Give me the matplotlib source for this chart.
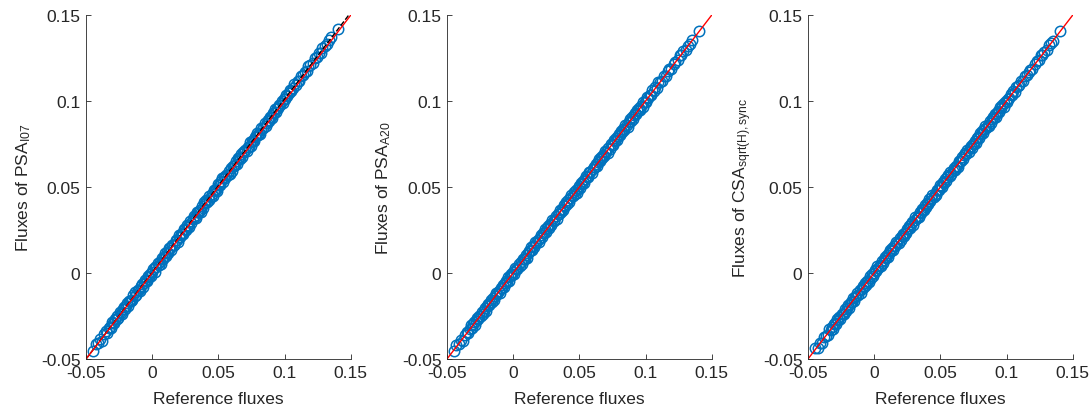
import numpy as np
import matplotlib
matplotlib.use('Agg')
from matplotlib import pyplot as plt

plt.rcParams['font.family'] = ['Liberation Sans', 'DejaVu Sans']
plt.rcParams['mathtext.fontset'] = 'custom'
plt.rcParams['mathtext.rm'] = 'Liberation Sans'
plt.rcParams['mathtext.it'] = 'Liberation Sans:italic'

# reference fluxes (shared x values of all three panels)
ref_flux = [
    -0.0445, -0.0428, -0.0412, -0.0396, -0.0381, -0.0366, -0.0352, -0.0340, -0.0329, -0.0318,
    -0.0311, -0.0302, -0.0295, -0.0287, -0.0279, -0.0270, -0.0263, -0.0255, -0.0246, -0.0238,
    -0.0231, -0.0222, -0.0215, -0.0206, -0.0199, -0.0191, -0.0183, -0.0175, -0.0166, -0.0158,
    -0.0151, -0.0143, -0.0134, -0.0127, -0.0119, -0.0110, -0.0103, -0.0095, -0.0086, -0.0079,
    -0.0071, -0.0062, -0.0055, -0.0047, -0.0039, -0.0031, -0.0022, -0.0015, -0.0007, 0.0000,
    0.0008, 0.0017, 0.0024, 0.0032, 0.0041, 0.0048, 0.0056, 0.0065, 0.0072, 0.0080,
    0.0089, 0.0096, 0.0104, 0.0113, 0.0120, 0.0128, 0.0137, 0.0144, 0.0152, 0.0161,
    0.0168, 0.0176, 0.0185, 0.0192, 0.0200, 0.0209, 0.0216, 0.0224, 0.0233, 0.0240,
    0.0248, 0.0257, 0.0264, 0.0272, 0.0281, 0.0288, 0.0296, 0.0305, 0.0312, 0.0320,
    0.0329, 0.0336, 0.0344, 0.0353, 0.0360, 0.0368, 0.0377, 0.0384, 0.0392, 0.0401,
    0.0408, 0.0416, 0.0425, 0.0432, 0.0440, 0.0449, 0.0456, 0.0464, 0.0473, 0.0480,
    0.0488, 0.0497, 0.0504, 0.0512, 0.0521, 0.0528, 0.0536, 0.0545, 0.0552, 0.0560,
    0.0569, 0.0576, 0.0584, 0.0593, 0.0600, 0.0608, 0.0617, 0.0624, 0.0632, 0.0641,
    0.0648, 0.0656, 0.0665, 0.0672, 0.0680, 0.0689, 0.0696, 0.0704, 0.0713, 0.0720,
    0.0728, 0.0737, 0.0744, 0.0752, 0.0761, 0.0768, 0.0776, 0.0785, 0.0792, 0.0800,
    0.0809, 0.0816, 0.0824, 0.0833, 0.0840, 0.0848, 0.0857, 0.0864, 0.0872, 0.0881,
    0.0888, 0.0896, 0.0905, 0.0912, 0.0920, 0.0929, 0.0936, 0.0944, 0.0953, 0.0960,
    0.0968, 0.0977, 0.0984, 0.0992, 0.1001, 0.1010, 0.1021, 0.1030, 0.1042, 0.1051,
    0.1063, 0.1074, 0.1086, 0.1097, 0.1109, 0.1122, 0.1138, 0.1151, 0.1166, 0.1180,
    0.1194, 0.1211, 0.1226, 0.1243, 0.1258, 0.1271, 0.1285, 0.1302, 0.1318, 0.1333,
    0.1352, 0.1405,
]

# method fluxes minus reference, in units of 1e-4
dev_i07 = [
    -8, 14, 3, 12, -12, 9, 16, -6, 11, 2,
    -10, 15, 7, -4, 13, 0, 12, -9, 17, 5,
    -7, 13, 18, -3, 8, 16, -11, 10, 4, -2,
    -5, 14, 1, 19, -8, 11, 6, -12, 9, 15,
    -10, 6, 17, 3, -6, 13, -1, 10, -13, 7,
    16, -9, 12, 4, 18, -4, 8, -11, 14, 0,
    2, 19, -7, 11, -3, 15, 6, -10, 13, 1,
    -6, 15, 9, -12, 20, -2, 12, 4, -8, 16,
    7, -4, 18, 1, -11, 14, -7, 10, 17, 3,
    -9, 19, 11, -1, 5, -13, 13, -5, 21, 8,
    15, -3, 20, -10, 2, 12, -6, 16, 9, 4,
    -12, 18, 7, -2, 14, 22, -4, 11, 0, 9,
    1, 20, -8, 15, -5, 13, 6, 3, 17, -9,
    19, 10, -1, 21, -6, 16, 8, 12, -3, 14,
    4, 22, -7, 18, 9, -2, 15, 11, 20, 0,
    7, -5, 17, 13, 2, 23, -4, 10, 19, 5,
    21, 12, -3, 16, 8, 24, 1, 18, 6, 14,
    9, 22, 3, 17, 11, 25, 6, 15, 20, 10,
    13, 24, 8, 18, 5, 26, 12, 19, 9, 21,
    16, 11, 27, 14, 20, 10, 23, 17, 12, 19,
    22, 15,
]

dev_a20 = [
    -9, 12, -3, 7, -14, 5, 10, -6, 2, 13,
    -11, 4, 8, -13, 1, 11, -7, 6, -2, 14,
    -10, 3, 9, -12, 5, 12, -5, 0, 10, -8,
    7, -14, 2, 13, -4, 8, -11, 6, -1, 12,
    -9, 4, 11, -6, 14, -13, 3, 9, -3, 7,
    -12, 10, 1, -8, 13, -5, 6, -10, 12, 2,
    -7, 11, -14, 5, 8, -2, 13, -9, 4, -11,
    10, -4, 7, -13, 1, 12, -6, 9, -1, 14,
    -12, 3, 11, -8, 6, -10, 13, 0, -5, 9,
    -14, 8, 2, 12, -7, 5, -11, 10, -3, 13,
    -9, 6, -12, 4, 11, -2, 14, -6, 8, -13,
    1, 10, -8, 13, -4, 7, -10, 3, 12, -1,
    -11, 9, 5, -14, 6, 11, -3, 8, -12, 2,
    13, -7, 10, -5, 4, -9, 12, 0, -13, 7,
    -6, 11, 3, -10, 14, -2, 8, -12, 5, 9,
    -8, 12, -4, 6, -11, 10, 1, -13, 7, 13,
    -3, 9, -9, 4, 12, -6, 11, -1, 8, -10,
    5, -12, 10, 2, -7, 13, -4, 6, -9, 11,
    -5, 8, -10, 12, 3, -7, 9, -3, 6, 4,
    -6, 7, 2, -4, 8, -2, 5, -5, 3, -3,
    4, 2,
]

dev_sync = [
    11, -7, 4, -12, 9, 1, -10, 13, -5, 6,
    -13, 8, 2, -9, 12, -3, 7, -11, 10, 0,
    -6, 14, -8, 5, 11, -12, 3, 9, -4, 12,
    -10, 6, -1, 13, -7, 10, -14, 4, 8, -2,
    12, -9, 7, 1, -11, 13, -5, 9, -13, 3,
    10, -6, 14, -3, 5, -10, 11, -8, 2, 13,
    -4, 8, -12, 6, 12, -1, 9, -13, 7, -5,
    14, 0, -9, 11, -6, 4, 13, -11, 2, -7,
    10, -3, 12, -10, 5, 8, -14, 6, 11, -2,
    3, -12, 9, -5, 13, 1, -8, 10, -11, 7,
    -4, 12, -9, 2, 14, -6, 6, -13, 11, 0,
    -7, 13, 4, -10, 9, -2, 12, -12, 5, 8,
    -5, 11, -11, 3, 13, -8, 7, 1, -14, 10,
    2, -6, 12, -9, 6, 11, -4, 9, -12, 4,
    13, -10, 8, -1, 5, -13, 10, 3, -7, 12,
    -3, 9, -11, 6, 14, -5, 1, -9, 11, -8,
    7, 12, -4, 10, -12, 2, 8, -6, 13, -2,
    9, -10, 5, 11, -7, 4, -3, 12, -9, 6,
    -8, 10, 3, -6, 9, -4, 7, -2, 5, 3,
    -5, 6, 4, -3, 7, -4, 2, -6, 5, 4,
    -3, 1,
]

ref = np.array(ref_flux)
psa_i07 = ref + np.array(dev_i07) * 1e-4
psa_a20 = ref + np.array(dev_a20) * 1e-4
csa_sync = ref + np.array(dev_sync) * 1e-4

ylabels = ['Fluxes of PSA$_{\\mathrm{I07}}$',
           'Fluxes of PSA$_{\\mathrm{A20}}$',
           'Fluxes of CSA$_{\\mathrm{sqrt(H),sync}}$']
ticks = [-0.05, 0, 0.05, 0.1, 0.15]
ticklabels = ['-0.05', '0', '0.05', '0.1', '0.15']

fig = plt.figure(figsize=(10.92, 4.14), dpi=100)
lefts = [0.0788, 0.4093, 0.7399]
axes = [fig.add_axes([l, 0.1304, 0.2425, 0.8309]) for l in lefts]

lim = np.array([-0.05, 0.15])
for i, (ax, yv, lab) in enumerate(zip(axes, [psa_i07, psa_a20, csa_sync], ylabels)):
    ax.plot(ref, yv, 'o', mfc='none', mec='#0072BD', ms=7.5, mew=1.1)
    if i == 0:
        # linear fit of the I07 fluxes against the reference
        p = np.polyfit(ref, yv, 1)
        ax.plot(lim, np.polyval(p, lim), 'k--', lw=1.0)
    ax.plot(lim, lim, 'r-', lw=1.0)
    ax.set_xlim(lim)
    ax.set_ylim(lim)
    ax.set_xticks(ticks)
    ax.set_xticklabels(ticklabels)
    ax.set_yticks(ticks)
    ax.set_yticklabels(ticklabels)
    for s in ['top', 'right']:
        ax.spines[s].set_visible(False)
    for s in ['left', 'bottom']:
        ax.spines[s].set_color('#262626')
        ax.spines[s].set_linewidth(0.6)
    ax.tick_params(direction='in', length=3.3, width=0.6, color='#262626',
                   labelcolor='#262626', labelsize=12.5, pad=4)
    ax.set_xlabel('Reference fluxes', fontsize=12.5, color='#262626', labelpad=8)
    ax.set_ylabel(lab, fontsize=12.5, color='#262626', labelpad=6)

fig.savefig('out.png', dpi=100)
